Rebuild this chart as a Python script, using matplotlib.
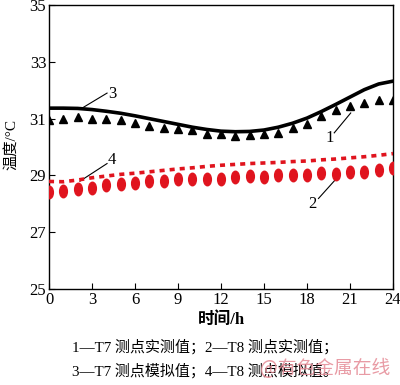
import matplotlib
matplotlib.use('Agg')
import matplotlib.pyplot as plt
from matplotlib.path import Path
from matplotlib.transforms import Affine2D

plt.rcParams['font.family'] = ['Liberation Serif', 'Noto Sans CJK SC']

hours = list(range(0, 25))

# 1 - T7 measured
t7_measured = [30.96, 31.00, 31.06, 31.00, 31.00, 30.94, 30.85, 30.73, 30.68, 30.64,
               30.59, 30.45, 30.45, 30.40, 30.43, 30.45, 30.50, 30.66, 30.82, 31.08,
               31.32, 31.43, 31.55, 31.64, 31.67]
# 2 - T8 measured
t8_measured = [28.41, 28.44, 28.53, 28.55, 28.65, 28.70, 28.72, 28.79, 28.81, 28.88,
               28.86, 28.88, 28.88, 28.93, 28.98, 28.95, 29.00, 29.00, 29.00, 29.07,
               29.05, 29.14, 29.14, 29.19, 29.26]
# 3 - T7 simulated
t7_simulated = [31.37, 31.37, 31.36, 31.32, 31.26, 31.19, 31.10, 31.00, 30.90, 30.80,
                30.70, 30.62, 30.56, 30.54, 30.55, 30.60, 30.70, 30.84, 31.02, 31.25,
                31.50, 31.76, 32.02, 32.22, 32.32]
# 4 - T8 simulated
t8_simulated = [28.79, 28.78, 28.84, 28.92, 28.98, 29.04, 29.08, 29.13, 29.18, 29.23,
                29.27, 29.32, 29.36, 29.39, 29.42, 29.44, 29.46, 29.49, 29.51, 29.55,
                29.58, 29.62, 29.66, 29.71, 29.77]

xticks = list(range(0, 25, 3))
yticks = list(range(25, 36, 2))

red = '#e0141e'

fig = plt.figure(figsize=(4.0, 3.85), dpi=100)
ax = fig.add_axes([0.1225, 0.249, 0.86, 0.738])

ax.plot(hours, t7_simulated, color='black', lw=2.6, zorder=3)
ax.plot(hours, t8_simulated, color=red, lw=2.6, dashes=(1.4, 1.4), zorder=3)
ax.plot(hours, t7_measured, linestyle='none', marker='^', color='black', ms=5.5, zorder=4)
ellipse = Path.unit_circle().transformed(Affine2D().scale(0.62, 1.0))
ax.plot(hours, t8_measured, linestyle='none', marker=ellipse, color=red, ms=9, zorder=4)

ax.set_xlim(0, 24)
ax.set_ylim(25, 35)
ax.set_xticks(xticks)
ax.set_yticks(yticks)
ax.tick_params(direction='in', length=4, labelsize=12, pad=2)
for s in ax.spines.values():
    s.set_linewidth(1.0)

ax.set_xlabel('时间/h', fontsize=12, fontweight='bold', labelpad=3)
ax.set_ylabel('温度/°C', fontsize=11)
ax.yaxis.set_label_coords(-0.09, 0.51)

# leader lines and labels
ax.plot([2.37, 4.05], [31.39, 31.9], color='black', lw=0.8)
ax.text(4.4, 31.88, '3', fontsize=12, ha='center', va='center')
ax.plot([19.9, 21.05], [30.5, 31.2], color='black', lw=0.8)
ax.text(19.6, 30.33, '1', fontsize=12, ha='center', va='center')
ax.plot([2.16, 4.05], [28.8, 29.42], color='black', lw=0.8)
ax.text(4.4, 29.56, '4', fontsize=12, ha='center', va='center')
ax.plot([18.8, 19.96], [28.19, 28.84], color='black', lw=0.8)
ax.text(18.4, 28.0, '2', fontsize=12, ha='center', va='center')

fig.text(0.18, 1 - 347 / 385, '1—T7 测点实测值；2—T8 测点实测值；', fontsize=10.8,
         ha='left', va='center')
fig.text(0.18, 1 - 371 / 385, '3—T7 测点模拟值；4—T8 测点模拟值。', fontsize=10.8,
         ha='left', va='center')
fig.text(0.975, 1 - 368 / 385, '@有色金属在线', fontsize=13.5, color='#e58a95', alpha=0.85,
         ha='right', va='center', family=['Noto Sans CJK SC', 'DejaVu Sans'])

fig.savefig('out.png', dpi=100)
